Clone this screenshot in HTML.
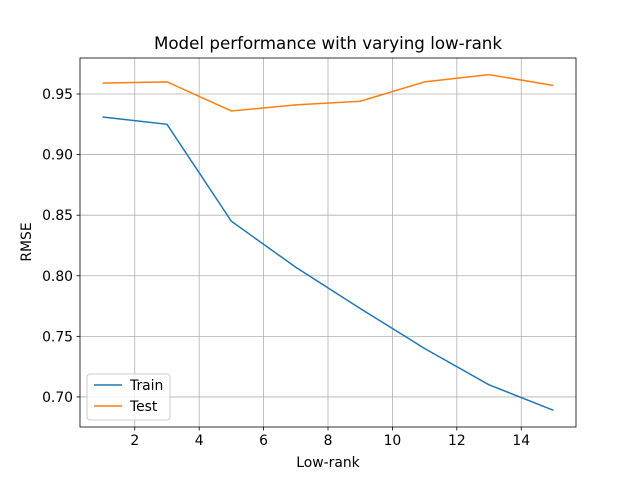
<!DOCTYPE html>
<html><head><meta charset="utf-8"><style>
body{margin:0;background:#fff;}
svg{display:block;font-family:"DejaVu Sans","Liberation Sans",sans-serif;}
</style></head><body>
<svg id="chart" width="640" height="480">
<rect width="640" height="480" fill="#fff"/>
<g id="grid"></g>
<g id="series"></g>
<rect x="80" y="58" width="496" height="369" fill="none" stroke="#000" stroke-width="0.8"/>
<g id="ticks"></g>
<text x="328" y="49" text-anchor="middle" font-size="16.7">Model performance with varying low-rank</text>
<text x="328" y="467" text-anchor="middle" font-size="13.9">Low-rank</text>
<text x="31" y="242" text-anchor="middle" font-size="13.9" transform="rotate(-90 31 242)">RMSE</text>
<g>
<rect x="87" y="374" width="83" height="46" rx="3" fill="#fff" fill-opacity="0.8" stroke="#ccc"/>
<line x1="94" y1="385" x2="122" y2="385" stroke="#1f77b4" stroke-width="1.5"/>
<text x="130" y="390" font-size="13.9">Train</text>
<line x1="94" y1="406" x2="122" y2="406" stroke="#ff7f0e" stroke-width="1.5"/>
<text x="130" y="411" font-size="13.9">Test</text>
</g>
</svg>
<script>
const ranks=[1,3,5,7,9,11,13,15];
const trainVals=[0.931,0.925,0.845,0.807,0.773,0.740,0.710,0.689];
const testVals=[0.959,0.960,0.936,0.941,0.944,0.960,0.966,0.957];
const xTicks=[2,4,6,8,10,12,14];
const yTicks=[0.70,0.75,0.80,0.85,0.90,0.95];
const NS="http://www.w3.org/2000/svg";
const X0=80,X1=576,Y0=58,Y1=427,xmin=0.3,xmax=15.7,ymin=0.6752,ymax=0.9797;
const xs=v=>X0+(v-xmin)/(xmax-xmin)*(X1-X0);
const ys=v=>Y1-(v-ymin)/(ymax-ymin)*(Y1-Y0);
function mk(tag,attrs,parent){const e=document.createElementNS(NS,tag);for(const k in attrs)e.setAttribute(k,attrs[k]);document.getElementById(parent).appendChild(e);return e;}
xTicks.forEach(t=>{
 const g=mk('line',{x1:xs(t),x2:xs(t),y1:Y0,y2:Y1,stroke:'#b0b0b0','stroke-width':0.8},'grid');
 
 
 mk('line',{x1:xs(t),x2:xs(t),y1:Y1,y2:Y1+3.5,stroke:'#000','stroke-width':0.8},'ticks');
 const l=mk('text',{x:xs(t),y:Y1+18,'text-anchor':'middle','font-size':13.9},'ticks');
 l.textContent=t;
 
 
});
yTicks.forEach(t=>{
 const g=mk('line',{x1:X0,x2:X1,y1:ys(t),y2:ys(t),stroke:'#b0b0b0','stroke-width':0.8},'grid');
 
 
 mk('line',{x1:X0-3.5,x2:X0,y1:ys(t),y2:ys(t),stroke:'#000','stroke-width':0.8},'ticks');
 const l=mk('text',{x:X0-7,y:ys(t)+5,'text-anchor':'end','font-size':13.9},'ticks');
 l.textContent=t.toFixed(2);
 
 
});
function line(vals,color,name){
 const p=mk('polyline',{points:ranks.map((r,i)=>xs(r)+','+ys(vals[i])).join(' '),fill:'none',stroke:color,'stroke-width':1.5},'series');
 
 
}
line(trainVals,'#1f77b4','train-line');
line(testVals,'#ff7f0e','test-line');
</script>
</body></html>
